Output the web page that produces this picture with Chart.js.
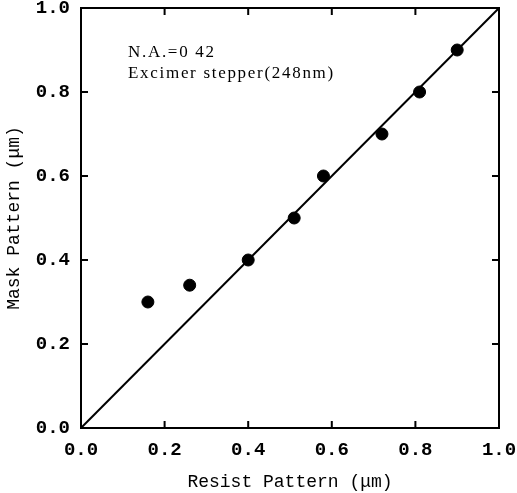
<!DOCTYPE html>
<html>
<head>
<meta charset="utf-8">
<script src="https://cdn.jsdelivr.net/npm/chart.js@4/dist/chart.umd.min.js"></script>
<style>
  html,body{margin:0;padding:0;background:#fff;}
  #wrap{width:517px;height:493px;position:relative;}
</style>
</head>
<body>
<div id="wrap"><canvas id="c"></canvas></div>
<script>
/* ── 데이터 ── */
const resistX = [0.16, 0.26, 0.40, 0.51, 0.58, 0.72, 0.81, 0.90];
const maskY   = [0.30, 0.34, 0.40, 0.50, 0.60, 0.70, 0.80, 0.90];
const lineX   = [0.0, 1.0];
const lineY   = [0.0, 1.0];
const tickVals = [0.0, 0.2, 0.4, 0.6, 0.8, 1.0];
const noteLines = ['N.A.=0 42', 'Excimer stepper(248nm)'];

const INK = '#000';
const MONO = '"Liberation Mono", monospace';

/* ── 프레임 + 안쪽 눈금 ── */
const framePlugin = {
  id: 'frame',
  afterDatasetsDraw(chart){
    const {ctx, chartArea: a, scales: {x, y}} = chart;
    const L = 7;
    ctx.save();
    ctx.strokeStyle = INK;
    ctx.lineWidth = 2;
    ctx.strokeRect(a.left, a.top, a.right - a.left, a.bottom - a.top);
    ctx.beginPath();
    tickVals.forEach(v => {
      const px = x.getPixelForValue(v);
      const py = y.getPixelForValue(v);
      ctx.moveTo(px, a.bottom); ctx.lineTo(px, a.bottom - L);
      ctx.moveTo(px, a.top);    ctx.lineTo(px, a.top + L);
      ctx.moveTo(a.left, py);   ctx.lineTo(a.left + L, py);
      ctx.moveTo(a.right, py);  ctx.lineTo(a.right - L, py);
    });
    ctx.stroke();

    // 주석 텍스트
    ctx.fillStyle = INK;
    ctx.font = '17px "Liberation Serif", serif';
    ctx.letterSpacing = '1.7px';
    ctx.textBaseline = 'alphabetic';
    ctx.fillText(noteLines[0], a.left + 47, 57);
    ctx.fillText(noteLines[1], a.left + 47, 78);
    ctx.restore();
  }
};

new Chart(document.getElementById('c'), {
  type: 'scatter',
  data: {
    datasets: [
      {
        type: 'line',
        data: lineX.map((v, i) => ({x: v, y: lineY[i]})),
        borderColor: INK,
        borderWidth: 2,
        pointRadius: 0,
        fill: false
      },
      {
        data: resistX.map((v, i) => ({x: v, y: maskY[i]})),
        backgroundColor: INK,
        borderColor: INK,
        pointRadius: 6
      }
    ]
  },
  options: {
    responsive: true,
    maintainAspectRatio: false,
    animation: false,
    layout: { padding: { top: 8, right: 18, left: 0, bottom: 0 } },
    plugins: { legend: { display: false }, tooltip: { enabled: false } },
    scales: {
      x: {
        min: 0, max: 1,
        afterFit(s){ s.height = 65; s.paddingLeft = 0; s.paddingRight = 0; },
        afterBuildTicks(s){ s.ticks = tickVals.map(v => ({value: v})); },
        grid: { display: false, drawTicks: false },
        border: { display: false },
        ticks: {
          color: INK, padding: 11,
          font: { family: MONO, size: 19, weight: 'bold' },
          callback: v => v.toFixed(1)
        },
        title: {
          display: true, text: 'Resist Pattern (μm)', color: INK,
          padding: { top: 2, bottom: 0 },
          font: { family: MONO, size: 18 }
        }
      },
      y: {
        min: 0, max: 1,
        afterFit(s){ s.width = 81; s.paddingTop = 0; s.paddingBottom = 0; },
        afterBuildTicks(s){ s.ticks = tickVals.map(v => ({value: v})); },
        grid: { display: false, drawTicks: false },
        border: { display: false },
        ticks: {
          color: INK, padding: 11,
          font: { family: MONO, size: 19, weight: 'bold' },
          callback: v => v.toFixed(1)
        },
        title: {
          display: true, text: 'Mask Pattern (μm)', color: INK,
          padding: { top: 3, bottom: 0 },
          font: { family: MONO, size: 18 }
        }
      }
    }
  },
  plugins: [framePlugin]
});
</script>
</body>
</html>
